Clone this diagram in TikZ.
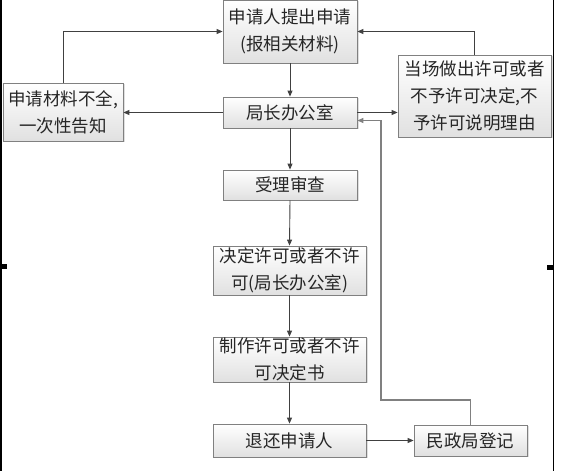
\documentclass[tikz,border=0pt]{standalone}
\usepackage{fontspec}
\setmainfont{Noto Sans CJK SC}
\usetikzlibrary{arrows.meta,shadows,calc}
\begin{document}
\begin{tikzpicture}[x=1pt,y=1pt,
  box/.style={draw=black!50,line width=0.8pt,top color=white,bottom color=black!12,
    drop shadow={shadow xshift=1.5pt,shadow yshift=-1.5pt,opacity=0.25},
    align=center,inner sep=0pt,font=\fontsize{17.5}{27}\selectfont,text=black!85},
  conn/.style={draw=black!75,line width=0.9pt,-{Triangle[length=6pt,width=5pt]}},
  conng/.style={draw=black!50,line width=1.1pt,-{Triangle[length=6pt,width=5pt]}}]
\useasboundingbox (0,0) rectangle (565,471);
% page edge lines
\draw[line width=1.5pt] (0.75,0) -- (0.75,471);
\draw[line width=1.5pt] (553.5,0) -- (553.5,471);
\fill (0,202) rectangle (7,207);
\fill (547,201) rectangle (553,206);
% boxes
\node[box,minimum width=134pt,minimum height=63pt] (A) at (290,439.5) {申请人提出申请\\(报相关材料)};
\node[box,minimum width=134pt,minimum height=31pt] (B) at (290,358.5) {局长办公室};
\node[box,minimum width=120pt,minimum height=58pt] (C) at (63,359) {申请材料不全,\\一次性告知};
\node[box,minimum width=153pt,minimum height=82pt] (D) at (474.5,375) {当场做出许可或者\\不予许可决定,不\\予许可说明理由};
\node[box,minimum width=134pt,minimum height=30pt] (E) at (290,286) {受理审查};
\node[box,minimum width=153pt,minimum height=49pt] (F) at (289.5,200.5) {决定许可或者不许\\可(局长办公室)};
\node[box,minimum width=153pt,minimum height=45pt] (G) at (289.5,111.5) {制作许可或者不许\\可决定书};
\node[box,minimum width=153pt,minimum height=33pt] (H) at (289.5,30.5) {退还申请人};
\node[box,minimum width=113pt,minimum height=31pt] (I) at (470.5,30.5) {民政局登记};
% connectors
\draw[conn] (A.south) -- (B.north);
\draw[conn] (B.west) -- (B.west -| C.east);
\draw[conn] (C.north) |- (A.west);
\draw[conn] (B.east) -- (B.east -| D.west);
\draw[conn] (D.north) |- (A.east);
\draw[conn] (B.south) -- (E.north);
\draw[conn] (E.south) -- (F.north);
\draw[conn] (F.south) -- (G.north);
\draw[conn] (G.south) -- (H.north);
\draw[conn] (H.east) -- (I.west);
\coordinate (r1) at (381,71);
\draw[conng] (I.north) |- (r1) |- ([yshift=-8pt]B.east);
\end{tikzpicture}
\end{document}
